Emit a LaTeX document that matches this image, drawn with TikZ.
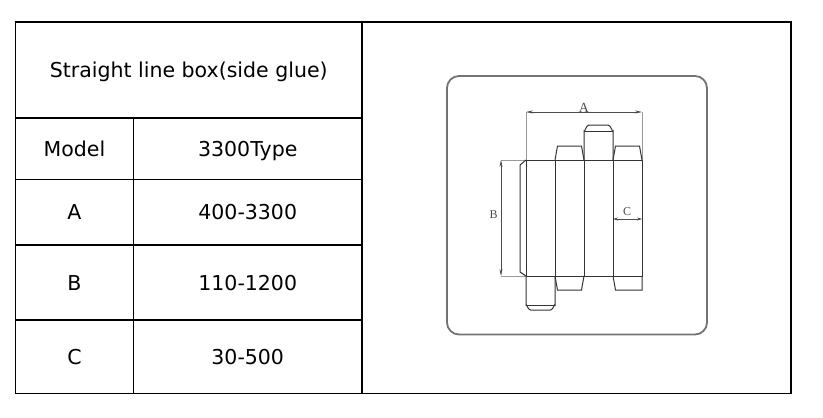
\documentclass[tikz,border=0pt]{standalone}
\usepackage{fontspec}
\setmainfont{DejaVu Sans}
\newfontfamily\dimfont{Liberation Serif}
\usetikzlibrary{arrows.meta}

\begin{document}
\begin{tikzpicture}[x=1pt,y=-1pt,
		cell/.style={font=\fontsize{20.5}{24}\selectfont, anchor=base, inner sep=0pt},
		grid/.style={draw=black, line width=1.1pt},
		frame/.style={draw=black!55, line width=1.8pt, rounded corners=12pt},
		net/.style={draw=black!80, line width=1pt},
		dimline/.style={draw=black!40, line width=0.6pt},
		dimarrow/.style={draw=black!70, line width=0.6pt, {Stealth[length=7pt,width=3pt]}-{Stealth[length=7pt,width=3pt]}},
		dimlabel/.style={font=\dimfont\fontsize{12}{12}\selectfont, text=black!70, inner sep=0pt}]
		\useasboundingbox (0,0) rectangle (823,418);

		\draw[grid] (15.5,22) rectangle (791,393.5);
		\draw[grid] (362,22) -- (362,393.5);
		\draw[grid] (133.5,118) -- (133.5,393.5);
		\foreach \y in {118,179.5,245,320}
			\draw[grid] (15.5,\y) -- (362,\y);

		\path (188.75,77.5) node[cell] (title) {Straight line box(side glue)}
			(74.5,156.25) node[cell] (model) {Model}
			(247.75,156.25) node[cell] (type) {3300Type}
			(74.5,219.75) node[cell] (lblA) {A}
			(247.75,219.75) node[cell] (valA) {400-3300}
			(74.5,290) node[cell] (lblB) {B}
			(247.75,290) node[cell] (valB) {110-1200}
			(74.5,364.25) node[cell] (lblC) {C}
			(247.75,364.25) node[cell] (valC) {30-500};

		\draw[frame] (447,76) rectangle (707,334.5);

		\foreach \i/\x in {1/526,2/555,3/584,4/613,5/642} {
			\coordinate (t\i) at (\x,160);
			\coordinate (b\i) at (\x,276);
		}
		\coordinate (aL) at (526,112);
		\coordinate (aR) at (642,112);
		\coordinate (bT) at (501,160);
		\coordinate (bB) at (501,276);
		\coordinate (cL) at (613,219);
		\coordinate (cR) at (642,219);

		\draw[dimline] (t1) -- (aL);
		\draw[dimline] (t5) -- (aR);
		\draw[dimline] (bT) -- (t1);
		\draw[dimline] (bB) -- (b1);

		\draw[net] (t1) -- (t5) -- (b5) -- (b1) -- cycle;
		\foreach \i in {2,3,4}
			\draw[net] (t\i) -- (b\i);
		\draw[net] (t1) -- (520,165) -- (520,272) -- (b1);
		\draw[net] (t2) -- (557.5,146) -- (581.5,146) -- (t3);
		\draw[net] (t4) -- (615.5,146) -- (639.5,146) -- (t5);
		\draw[net] (t3) -- (584,131) to[out=-90,in=180] (589,125) -- (608,125) to[out=0,in=-90] (613,131) -- (t4);
		\draw[net] (584,131) -- (613,131);
		\draw[net] (b1) -- (526,305) to[out=90,in=180] (530.5,310) -- (550.5,310) to[out=0,in=90] (555,305) -- (b2);
		\draw[net] (526,305) -- (555,305);
		\draw[net] (b2) -- (557.5,290) -- (581.5,290) -- (b3);
		\draw[net] (b4) -- (615.5,290) -- (642,290) -- (b5);

		\draw[dimarrow] (aL) -- (aR);
		\draw[dimarrow] (bT) -- (bB);
		\draw[dimarrow, {Stealth[length=5pt,width=3pt]}-{Stealth[length=5pt,width=3pt]}] (cL) -- (cR);

		\path (584,112.5) node[dimlabel, anchor=south, font=\dimfont\fontsize{14}{14}\selectfont] (dimA) {A}
			(493.5,215) node[dimlabel] (dimB) {B}
			(627,211.5) node[dimlabel] (dimC) {C};
	\end{tikzpicture}
\end{document}
